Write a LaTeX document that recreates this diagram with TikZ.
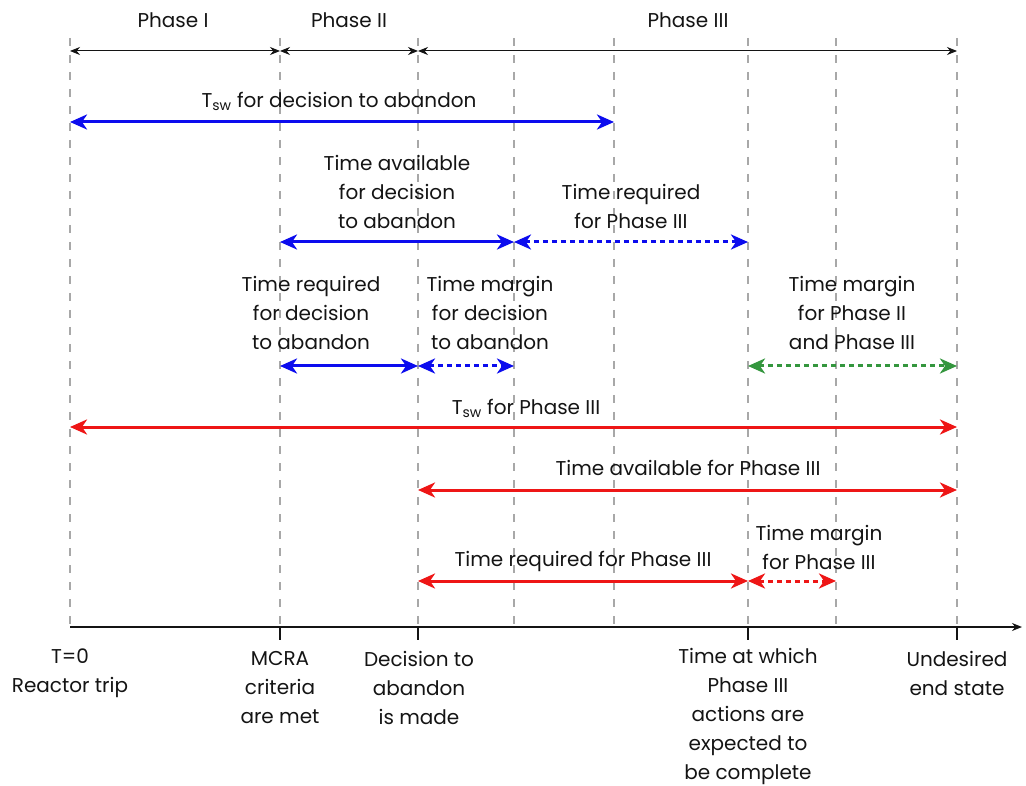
\documentclass[tikz,border=0pt]{standalone}
\usepackage{fontspec}
\setmainfont{Poppins}
\usetikzlibrary{arrows.meta}
\definecolor{spanblue}{RGB}{12,12,238}
\definecolor{spanred}{RGB}{238,22,22}
\definecolor{spangreen}{RGB}{52,150,62}
\definecolor{guidegray}{RGB}{168,168,168}
\definecolor{ink}{RGB}{20,20,20}
\begin{document}
\begin{tikzpicture}[x=1pt,y=-1pt,
  lbl/.style={font=\fontsize{20}{29}\selectfont, align=center, inner sep=0pt, text=ink},
  guideline/.style={guidegray, line width=1.4pt, dash pattern=on 8pt off 9pt},
  phasearrow/.style={ink, line width=1pt, {Stealth[length=10pt,width=8pt]}-{Stealth[length=10pt,width=8pt]}},
  span/.style={line width=3pt, {Stealth[length=17pt,width=15pt,inset=5pt]}-{Stealth[length=17pt,width=15pt,inset=5pt]}},
  dotspan/.style={span, dash pattern=on 5pt off 4pt},
  tick/.style={ink, line width=1.5pt},
]
\useasboundingbox (0,0) rectangle (1026,786);

% time instants (guide lines)
\coordinate (g1) at (70,38);
\coordinate (g2) at (280,38);
\coordinate (g3) at (418,38);
\coordinate (g4) at (514,38);
\coordinate (g5) at (614,38);
\coordinate (g6) at (748,38);
\coordinate (g7) at (836,38);
\coordinate (g8) at (957,38);

% rows of the span arrows
\coordinate (r1) at (0,51);
\coordinate (r2) at (0,122);
\coordinate (r3) at (0,242);
\coordinate (r4) at (0,366);
\coordinate (r5) at (0,427);
\coordinate (r6) at (0,490);
\coordinate (r7) at (0,581);
\coordinate (ax) at (0,627);
\coordinate (tk) at (0,640);
\coordinate (axend) at (1022,627);

% dashed guide lines
\foreach \g in {g1,g2,g3,g4,g5,g6,g7,g8}
  \draw[guideline] (\g) -- (\g |- ax);

% time axis and ticks
\draw[ink, line width=1.5pt, -{Stealth[length=10pt,width=8pt]}] (g1 |- ax) -- (axend);
\foreach \g in {g2,g3,g6,g8}
  \draw[tick] (\g |- ax) -- (\g |- tk);

% phases
\draw[phasearrow] (g1 |- r1) -- (g2 |- r1);
\draw[phasearrow] (g2 |- r1) -- (g3 |- r1);
\draw[phasearrow] (g3 |- r1) -- (g8 |- r1);
\node[lbl] (ph1) at (173,20) {Phase I};
\node[lbl] (ph2) at (349,20) {Phase II};
\node[lbl] (ph3) at (688,20) {Phase III};

% decision to abandon
\draw[span, spanblue] (g1 |- r2) -- (g5 |- r2);
\node[lbl] (tswd) at (339,101) {T\textsubscript{sw} for decision to abandon};

\draw[span, spanblue] (g2 |- r3) -- (g4 |- r3);
\node[lbl] (tad) at (397,192) {Time available\\for decision\\to abandon};
\draw[dotspan, spanblue] (g4 |- r3) -- (g6 |- r3);
\node[lbl] (trp) at (631,206.5) {Time required\\for Phase III};

\draw[span, spanblue] (g2 |- r4) -- (g3 |- r4);
\node[lbl] (trd) at (311,313) {Time required\\for decision\\to abandon};
\draw[dotspan, spanblue] (g3 |- r4) -- (g4 |- r4);
\node[lbl] (tmd) at (490,313) {Time margin\\for decision\\to abandon};
\draw[dotspan, spangreen] (g6 |- r4) -- (g8 |- r4);
\node[lbl] (tmpp) at (852,313) {Time margin\\for Phase II\\and Phase III};

% Phase III
\draw[span, spanred] (g1 |- r5) -- (g8 |- r5);
\node[lbl] (tswp) at (526,408) {T\textsubscript{sw} for Phase III};
\draw[span, spanred] (g3 |- r6) -- (g8 |- r6);
\node[lbl] (tap) at (688,468) {Time available for Phase III};
\draw[span, spanred] (g3 |- r7) -- (g6 |- r7);
\node[lbl] (trp3) at (583,561) {Time required for Phase III};
\draw[dotspan, spanred] (g6 |- r7) -- (g7 |- r7);
\node[lbl] (tmp3) at (819,547.5) {Time margin\\for Phase III};

% instants on the axis
\node[lbl] (t0) at (70,673) {T=0\\Reactor trip};
\node[lbl] (mcra) at (280,688) {MCRA\\criteria\\are met};
\node[lbl] (dec) at (419,688) {Decision to\\abandon\\is made};
\node[lbl] (done) at (748,716) {Time at which\\Phase III\\actions are\\expected to\\be complete};
\node[lbl] (ues) at (957,673) {Undesired\\end state};
\end{tikzpicture}
\end{document}
